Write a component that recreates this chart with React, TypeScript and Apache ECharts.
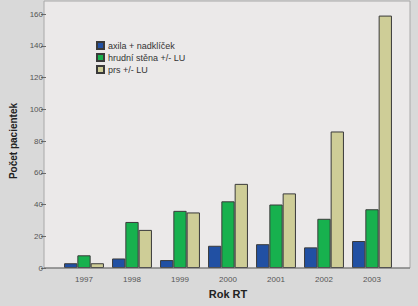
import React, { useEffect, useRef } from "react";
import * as echarts from "echarts";

const categories = ["1997", "1998", "1999", "2000", "2001", "2002", "2003"];
const axila = [3, 6, 5, 14, 15, 13, 17];
const hrudni = [8, 29, 36, 42, 40, 31, 37];
const prs = [3, 24, 35, 53, 47, 86, 159];
const seriesNames = ["axila + nadklíček", "hrudní stěna +/- LU", "prs +/- LU"];
const colors = ["#2150a3", "#17b14e", "#cecd97"];

export default function App() {
  const ref = useRef<HTMLDivElement>(null);
  useEffect(() => {
    const chart = echarts.init(ref.current!, null, { renderer: "svg" });
    const font = "Liberation Sans, Arial, sans-serif";
    const mk = (name: string, data: number[], color: string) => ({
      name,
      type: "bar",
      data,
      barWidth: 13.3,
      barGap: "0%",
      itemStyle: { color, borderColor: "#3a3a3a", borderWidth: 1 },
    });
    chart.setOption({
      animation: false,
      backgroundColor: "#d9d9d9",
      textStyle: { fontFamily: font },
      graphic: [
        {
          type: "rect",
          z: -10,
          shape: { x: 44, y: 1, width: 366, height: 267 },
          style: { fill: "#ebe9e9", stroke: "#a8a8a8", lineWidth: 1 },
          silent: true,
        },
        {
          type: "line",
          z: 10,
          shape: { x1: 44, y1: 268, x2: 410, y2: 268 },
          style: { stroke: "#6a6a6a", lineWidth: 1 },
          silent: true,
        },
      ],
      legend: {
        orient: "vertical",
        left: 91,
        top: 36,
        itemWidth: 7,
        itemHeight: 7,
        itemGap: 3,
        icon: "rect",
        data: seriesNames,
        textStyle: { fontSize: 9, color: "#333", fontFamily: font, padding: [0, 0, 0, -1] },
      },
      grid: { left: 58, right: 22, top: 14, bottom: 38 },
      xAxis: {
        type: "category",
        data: categories,
        name: "Rok RT",
        nameLocation: "middle",
        nameGap: 20,
        nameTextStyle: { fontSize: 11, fontWeight: "bold", color: "#222", fontFamily: font },
        axisLine: { show: false },
        axisTick: { alignWithLabel: true, length: 4, lineStyle: { color: "#6a6a6a" } },
        axisLabel: { fontSize: 8, color: "#555", margin: 7, fontFamily: font },
      },
      yAxis: {
        type: "value",
        min: 0,
        max: 160,
        interval: 20,
        offset: 14,
        name: "Počet pacientek",
        nameLocation: "middle",
        nameGap: 28,
        nameTextStyle: { fontSize: 10, fontWeight: "bold", color: "#222", fontFamily: font },
        axisLine: { show: false },
        axisTick: { show: true, length: 5, lineStyle: { color: "#6a6a6a" } },
        splitLine: { show: false },
        axisLabel: { fontSize: 8, color: "#555", margin: 3, fontFamily: font },
      },
      series: [
        mk(seriesNames[0], axila, colors[0]),
        mk(seriesNames[1], hrudni, colors[1]),
        mk(seriesNames[2], prs, colors[2]),
      ],
    });
    return () => chart.dispose();
  }, []);
  return (
    <div
      ref={ref}
      style={{ position: "fixed", left: 0, top: 0, width: 418, height: 306 }}
    />
  );
}
